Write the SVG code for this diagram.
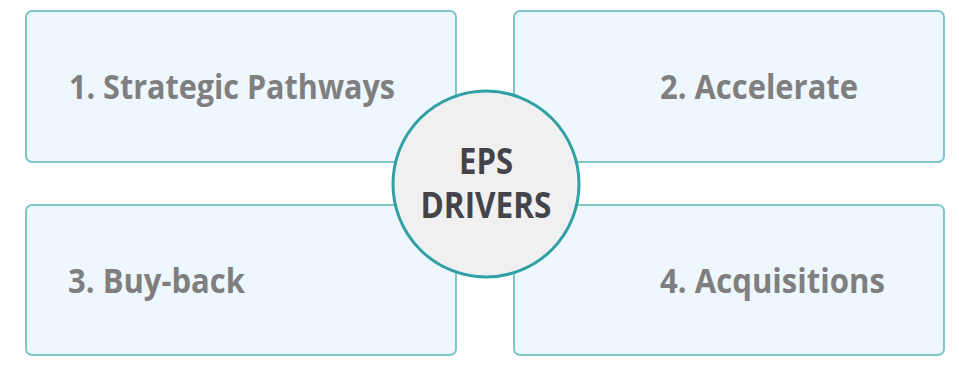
<svg xmlns="http://www.w3.org/2000/svg" width="959" height="365" viewBox="0 0 959 365">
  <style>
    .box { fill: #eef7fd; stroke: #7fc6c8; stroke-width: 2; }
    .lbl { font-family: "Open Sans", "Liberation Sans", sans-serif; font-weight: bold; font-size: 34px; fill: #7f7f7f; }
    .hub { fill: #f0f0f0; stroke: #2fa0a4; stroke-width: 3; }
    .hubtxt { font-family: "Open Sans", "Liberation Sans", sans-serif; font-weight: bold; font-size: 35px; fill: #434349; text-anchor: middle; }
  </style>
  <g id="node-1">
    <rect class="box" x="26" y="11" width="430" height="151" rx="6"/>
    <text class="lbl" x="69" y="99" textLength="326" lengthAdjust="spacingAndGlyphs">1. Strategic Pathways</text>
  </g>
  <g id="node-2">
    <rect class="box" x="514" y="11" width="430" height="151" rx="6"/>
    <text class="lbl" x="660" y="99" textLength="198" lengthAdjust="spacingAndGlyphs">2. Accelerate</text>
  </g>
  <g id="node-3">
    <rect class="box" x="26" y="205" width="430" height="150" rx="6"/>
    <text class="lbl" x="68" y="293" textLength="177" lengthAdjust="spacingAndGlyphs">3. Buy-back</text>
  </g>
  <g id="node-4">
    <rect class="box" x="514" y="205" width="430" height="150" rx="6"/>
    <text class="lbl" x="660" y="293" textLength="225" lengthAdjust="spacingAndGlyphs">4. Acquisitions</text>
  </g>
  <g id="connectors"></g>
  <g id="hub">
    <circle class="hub" cx="486" cy="184" r="93"/>
    <text class="hubtxt" x="486" y="174" textLength="54" lengthAdjust="spacingAndGlyphs">EPS</text>
    <text class="hubtxt" x="486" y="218" textLength="131" lengthAdjust="spacingAndGlyphs">DRIVERS</text>
  </g>
</svg>
